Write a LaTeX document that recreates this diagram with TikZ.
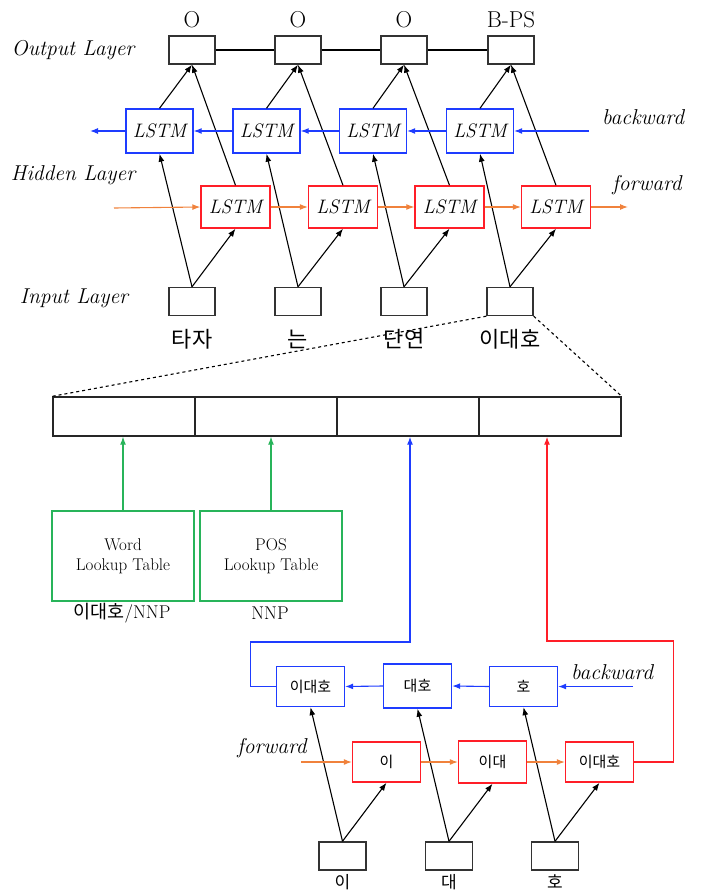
\documentclass[tikz,border=0pt]{standalone}
\usepackage{fontspec}
\newfontfamily\kr{Noto Sans CJK KR}
\usetikzlibrary{arrows.meta}
\definecolor{lblue}{RGB}{30,60,255}
\definecolor{lred}{RGB}{255,30,40}
\definecolor{lorange}{RGB}{240,130,60}
\definecolor{lgreen}{RGB}{40,180,90}
\tikzset{
  box/.style={draw=black!80, line width=1.4pt, minimum width=46pt, minimum height=28pt, inner sep=0pt},
  bcell/.style={draw=lblue, line width=1.4pt, minimum width=67pt, minimum height=44pt, inner sep=0pt,
    font=\fontsize{19.5}{22}\selectfont\itshape},
  rcell/.style={draw=lred, line width=1.4pt, minimum width=69pt, minimum height=42pt, inner sep=0pt,
    font=\fontsize{19.5}{22}\selectfont\itshape},
  sbcell/.style={draw=lblue, line width=1.4pt, minimum width=68pt, minimum height=40pt, inner sep=0pt,
    font=\kr\fontsize{15}{17}\selectfont},
  srcell/.style={draw=lred, line width=1.4pt, minimum width=68pt, minimum height=40pt, inner sep=0pt,
    font=\kr\fontsize{15}{17}\selectfont},
  bar/.style={draw=black!85, line width=1.4pt, minimum width=142pt, minimum height=39pt, inner sep=0pt},
  gbox/.style={draw=lgreen, line width=1.3pt, minimum width=142pt, minimum height=90pt, inner sep=0pt,
    align=center, font=\fontsize{17}{20}\selectfont},
  arr/.style={-{Latex[length=8pt,width=6pt]}, line width=1.1pt},
  barr/.style={arr, draw=lblue},
  oarr/.style={arr, draw=lorange},
  side/.style={font=\fontsize{21.5}{24}\selectfont\itshape},
  tag/.style={font=\fontsize{23}{25}\selectfont},
  word/.style={font=\kr\fontsize{22}{24}\selectfont},
  sword/.style={font=\kr\fontsize{17}{19}\selectfont},
}
\begin{document}
\begin{tikzpicture}[x=1pt,y=-1pt]
\useasboundingbox (0,0) rectangle (701,893);

% ---------- upper network ----------
\node[side] (lout) at (73,50) {Output Layer};
\node[side] (lhid) at (73,175) {Hidden Layer};
\node[side] (lin)  at (74,298) {Input Layer};

\foreach \n/\x/\t in {1/192/O,2/298/O,3/404/O,4/511/B-PS}{
  \node[box] (o\n) at (\x,50) {};
  \node[tag] (to\n) at (\x,20) {\t};
}
\draw[line width=1.1pt] (o1.east) -- (o2.west) (o2.east) -- (o3.west) (o3.east) -- (o4.west);

\foreach \n/\x in {1/159.5,2/266.5,3/373,4/480}{
  \node[bcell] (b\n) at (\x,131) {LSTM};
}
\foreach \n/\x in {1/235.5,2/343,3/449.5,4/556}{
  \node[rcell] (r\n) at (\x,207) {LSTM};
}
\foreach \n/\x/\w in {1/192/타자,2/298/는,3/404/단연,4/510/이대호}{
  \node[box] (i\n) at (\x,301.5) {};
  \node[word] (w\n) at (\x,339) {\w};
}

\foreach \n in {1,2,3,4}{
  \draw[arr] (i\n.north) -- (b\n.south);
  \draw[arr] (i\n.north) -- (r\n.south);
  \draw[arr] (b\n.north) -- (o\n.south);
  \draw[arr] (r\n.north) -- (o\n.south);
}

% backward chain
\coordinate (bin) at (589,131);
\coordinate (bout) at (90,131);
\draw[barr] (bin) -- (b4.east);
\draw[barr] (b4.west) -- (b3.east);
\draw[barr] (b3.west) -- (b2.east);
\draw[barr] (b2.west) -- (b1.east);
\draw[barr] (b1.west) -- (bout);
\node[side] (lback) at (643,117) {backward};

% forward chain
\coordinate (fin) at (114,208);
\coordinate (fout) at (628,207);
\draw[oarr] (fin) -- (r1.west);
\draw[oarr] (r1.east) -- (r2.west);
\draw[oarr] (r2.east) -- (r3.west);
\draw[oarr] (r3.east) -- (r4.west);
\draw[oarr] (r4.east) -- (fout);
\node[side] (lfwd) at (647,185) {forward};

% ---------- word representation ----------
\foreach \n/\x in {1/124,2/266,3/408,4/550}{
  \node[bar] (c\n) at (\x,416.5) {};
}
\draw[dashed, line width=1.1pt] (i4.south west) -- (c1.north west);
\draw[dashed, line width=1.1pt] (i4.south east) -- (c4.north east);

\node[gbox] (wlt) at (123,556) {Word\\Lookup Table};
\node[gbox] (plt) at (271,556) {POS\\Lookup Table};
\draw[arr, draw=lgreen] (wlt.north) -- (wlt.north |- c1.south);
\draw[arr, draw=lgreen] (plt.north) -- (plt.north |- c2.south);
\node[font=\fontsize{18.5}{21}\selectfont] (lw) at (122,613) {{\kr 이대호}/NNP};
\node[font=\fontsize{18.5}{21}\selectfont] (lp) at (270,613) {NNP};

% ---------- character network ----------
\node[sbcell] (bb1) at (310.5,686.5) {이대호};
\node[sbcell, minimum height=44pt] (bb2) at (417.5,686) {대호};
\node[sbcell] (bb3) at (523.5,686.5) {호};
\node[srcell] (rb1) at (386.5,762) {이};
\node[srcell, minimum height=42pt] (rb2) at (492.5,762) {이대};
\node[srcell] (rb3) at (599.5,762) {이대호};
\foreach \n/\x/\w in {1/342.5/이,2/449/대,3/555/호}{
  \node[box, minimum width=47pt] (ib\n) at (\x,856) {};
  \node[sword] (cw\n) at (\x,882) {\w};
  \draw[arr] (ib\n.north) -- (bb\n.south);
  \draw[arr] (ib\n.north) -- (rb\n.south);
}

\coordinate (sbin) at (633,686.5);
\draw[barr] (sbin) -- (bb3.east);
\draw[barr] (bb3.west) -- (bb2.east);
\draw[barr] (bb2.west) -- (bb1.east);
\node[side] (slback) at (612,672) {backward};

\coordinate (sfin) at (301,762);
\draw[oarr] (sfin) -- (rb1.west);
\draw[oarr] (rb1.east) -- (rb2.west);
\draw[oarr] (rb2.east) -- (rb3.west);
\node[side] (slfwd) at (272,748) {forward};

% routes into the concatenated vector
\coordinate (bj) at (410,642);
\coordinate (rj) at (547,641);
\draw[arr, draw=lblue, line width=1.2pt] (bb1.west) -- ++(-25,0) |- (bj) -- (bj |- c3.south);
\draw[arr, draw=lred, line width=1.2pt] (rb3.east) -- ++(39,0) |- (rj) -- (rj |- c4.south);
\end{tikzpicture}
\end{document}
